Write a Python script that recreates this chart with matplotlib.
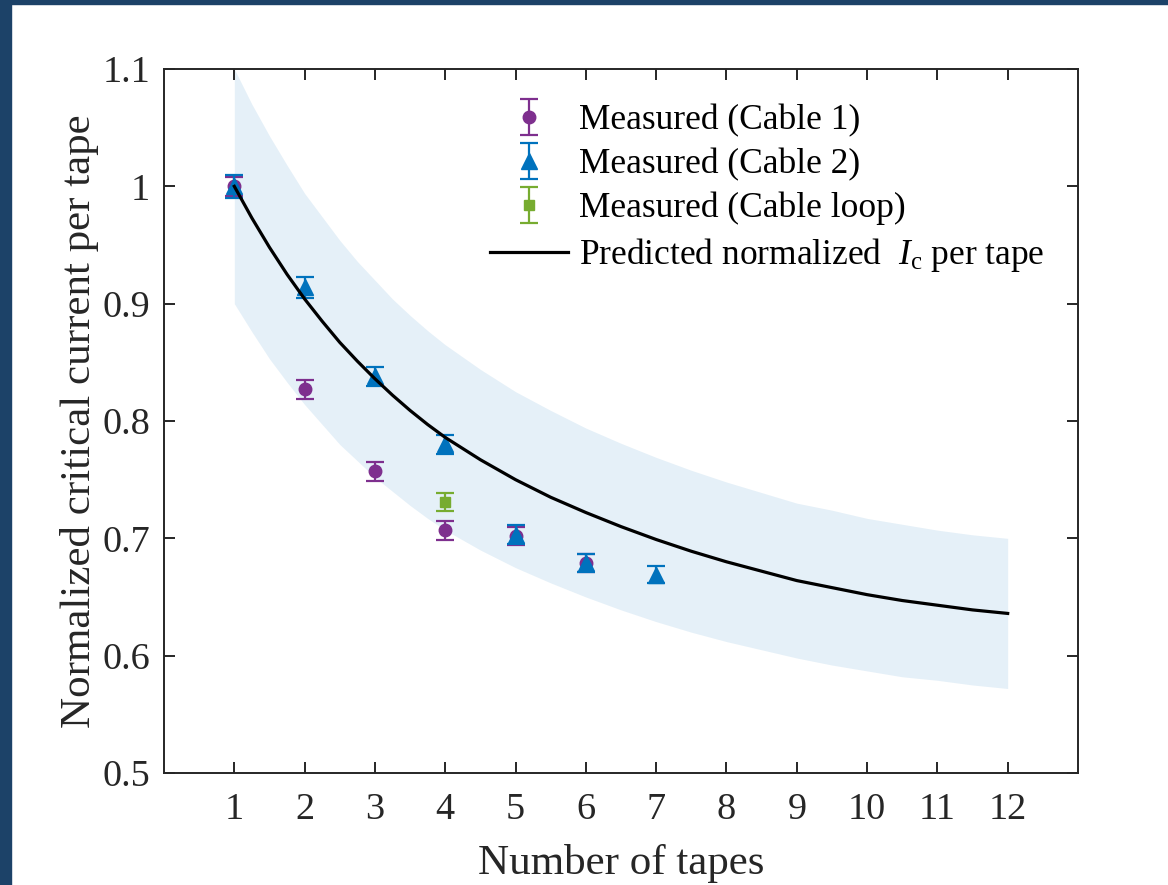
import matplotlib
matplotlib.use("Agg")
import matplotlib.pyplot as plt
from matplotlib.patches import Rectangle

# ---------------- data ----------------
cable1_x = [1, 2, 3, 4, 5, 6]
cable1_y = [1.000, 0.827, 0.757, 0.707, 0.702, 0.679]
cable1_err = [0.008, 0.008, 0.008, 0.008, 0.008, 0.008]

cable2_x = [1, 2, 3, 4, 5, 6, 7]
cable2_y = [1.000, 0.914, 0.838, 0.780, 0.703, 0.679, 0.669]
cable2_err = [0.010, 0.009, 0.008, 0.008, 0.008, 0.008, 0.007]

loop_x = [4]
loop_y = [0.731]
loop_err = [0.008]

pred_x = [1, 1.25, 1.5, 1.75, 2, 2.25, 2.5, 2.75, 3, 3.25, 3.5, 3.75, 4, 4.5,
          5, 5.5, 6, 6.5, 7, 7.5, 8, 8.5, 9, 9.5, 10, 10.5, 11, 11.5, 12]
pred_y = [1.000, 0.973, 0.948, 0.925, 0.904, 0.885, 0.867, 0.851, 0.836, 0.822,
          0.809, 0.797, 0.786, 0.767, 0.750, 0.735, 0.722, 0.710, 0.699, 0.689,
          0.680, 0.672, 0.664, 0.658, 0.652, 0.647, 0.643, 0.639, 0.636]
band_upper = [1.100, 1.070, 1.043, 1.018, 0.994, 0.974, 0.954, 0.936, 0.920, 0.904,
              0.890, 0.877, 0.865, 0.844, 0.825, 0.809, 0.794, 0.781, 0.769, 0.758,
              0.748, 0.739, 0.730, 0.724, 0.717, 0.712, 0.707, 0.703, 0.700]
band_lower = [0.900, 0.876, 0.853, 0.833, 0.814, 0.797, 0.780, 0.766, 0.752, 0.740,
              0.728, 0.717, 0.707, 0.690, 0.675, 0.662, 0.650, 0.639, 0.629, 0.620,
              0.612, 0.605, 0.598, 0.592, 0.587, 0.582, 0.579, 0.575, 0.572]

x_ticks = list(range(1, 13))
y_ticks = [0.5, 0.6, 0.7, 0.8, 0.9, 1.0, 1.1]
y_tick_labels = ["0.5", "0.6", "0.7", "0.8", "0.9", "1", "1.1"]

# ---------------- style ----------------
plt.rcParams["font.family"] = ["Liberation Serif", "DejaVu Serif"]
plt.rcParams["mathtext.fontset"] = "custom"
plt.rcParams["mathtext.rm"] = "Liberation Serif"
plt.rcParams["mathtext.it"] = "Liberation Serif:italic"

purple = "#7E2F8E"
blue = "#0072BD"
green = "#77AC30"
axcol = "#262626"

fig = plt.figure(figsize=(11.68, 8.85), dpi=100)
fig.patch.set_facecolor("white")
# navy frame on the left and top edges
fig.patches.append(Rectangle((0, 0), 11 / 1168, 1, transform=fig.transFigure,
                             color="#1c4268", zorder=0))
fig.patches.append(Rectangle((0, 1 - 4 / 885), 1, 4 / 885, transform=fig.transFigure,
                             color="#1c4268", zorder=0))

ax = fig.add_axes([164 / 1168, 1 - 773 / 885, 914 / 1168, 704 / 885])

ax.fill_between(pred_x, band_lower, band_upper, color=blue, alpha=0.1,
                linewidth=0, zorder=1)

eb_kw = dict(linestyle="none", elinewidth=1.6, capthick=1.6, capsize=6.2)
h1 = ax.errorbar(cable1_x, cable1_y, yerr=cable1_err, color=purple, marker="o",
                 markersize=9, label="Measured (Cable 1)", zorder=3, **eb_kw)
h2 = ax.errorbar(cable2_x, cable2_y, yerr=cable2_err, color=blue, marker="^",
                 markersize=11.5, label="Measured (Cable 2)", zorder=4, **eb_kw)
h3 = ax.errorbar(loop_x, loop_y, yerr=loop_err, color=green, marker="s",
                 markersize=7, label="Measured (Cable loop)", zorder=3, **eb_kw)
h4, = ax.plot(pred_x, pred_y, color="black", linewidth=2.3, zorder=5,
              solid_joinstyle="round",
              label=r"Predicted normalized  $I_\mathrm{c}$ per tape")

ax.set_xlim(0, 13)
ax.set_ylim(0.5, 1.1)
ax.set_xticks(x_ticks)
ax.set_yticks(y_ticks)
ax.set_yticklabels(y_tick_labels)

for s in ax.spines.values():
    s.set_color(axcol)
    s.set_linewidth(1.4)
ax.tick_params(direction="in", length=8, width=1.4, colors=axcol,
               labelsize=27.5, top=True, right=True, pad=10)
ax.tick_params(axis="x", pad=14)

ax.set_xlabel("Number of tapes", fontsize=31, color=axcol, labelpad=12)
ax.set_ylabel("Normalized critical current per tape", fontsize=31, color=axcol,
              labelpad=2)

leg = ax.legend(handles=[h1, h2, h3, h4], loc="upper left",
                bbox_to_anchor=(0.357, 0.95), frameon=False, fontsize=25.5,
                handlelength=2.2, handletextpad=0.3, labelspacing=0.3,
                borderpad=0, borderaxespad=0)
for t in leg.get_texts():
    t.set_color("black")

fig.savefig("out.png", dpi=100, facecolor="white")
